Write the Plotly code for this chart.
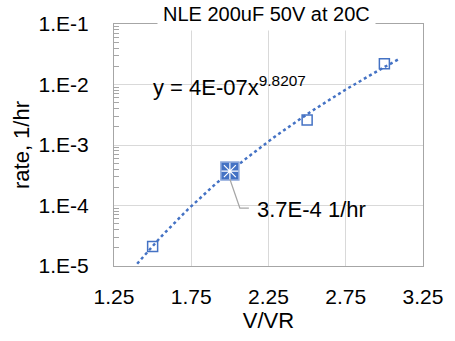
import numpy as np
import plotly.graph_objects as go

# data
v_ratio = [1.5, 2.0, 2.5, 3.0]
rate = [2.1e-5, 3.7e-4, 2.6e-3, 2.2e-2]
highlight_x = [2.0]
highlight_y = [3.7e-4]
# trendline from displayed equation y = a * x^b
coef_a = 4e-7
coef_b = 9.8207
trend_x = np.linspace(1.4, 3.1, 120)
trend_y = coef_a * trend_x ** coef_b

x_ticks = [1.25, 1.75, 2.25, 2.75, 3.25]
x_ticktext = ["1.25", "1.75", "2.25", "2.75", "3.25"]
y_ticks = [1e-5, 1e-4, 1e-3, 1e-2, 1e-1]
y_ticktext = ["1.E-5", "1.E-4", "1.E-3", "1.E-2", "1.E-1"]
y_minor = [m * 10.0 ** e for e in range(-5, -1) for m in range(2, 10)]

BLUE = "#4472C4"
FONT = "Liberation Sans, Arial, sans-serif"

fig = go.Figure()
fig.add_trace(go.Scatter(x=trend_x, y=trend_y, mode="lines",
                         line=dict(color=BLUE, width=2.5, dash="dot"),
                         hoverinfo="skip"))
fig.add_trace(go.Scatter(x=v_ratio, y=rate, mode="markers",
                         marker=dict(symbol="square-open", size=10,
                                     color=BLUE, line=dict(width=1.5, color=BLUE))))
fig.add_trace(go.Scatter(x=highlight_x, y=highlight_y, mode="markers",
                         marker=dict(symbol="square", size=18, color=BLUE,
                                     line=dict(width=1.5, color="#8EA9DB"))))
fig.add_trace(go.Scatter(x=highlight_x, y=highlight_y, mode="markers",
                         marker=dict(symbol="asterisk-open", size=14,
                                     color="white", line=dict(width=1.2, color="white"))))

fig.update_layout(
    width=455, height=341,
    margin=dict(l=114, r=22, t=24, b=70),
    paper_bgcolor="white", plot_bgcolor="white",
    showlegend=False,
    font=dict(family=FONT, size=22, color="#000000"),
    xaxis=dict(range=[1.25, 3.25], tickmode="array", tickvals=x_ticks,
               ticktext=x_ticktext, showgrid=True, gridcolor="#D9D9D9",
               gridwidth=1, showline=True, linecolor="#A6A6A6", linewidth=1,
               mirror=True, ticks="", zeroline=False,
               tickfont=dict(size=21),
               ticklabelstandoff=12,
               title=dict(text="V/VR", standoff=5, font=dict(size=22))),
    yaxis=dict(type="log", range=[-5, -1], tickmode="array", tickvals=y_ticks,
               ticktext=y_ticktext, showgrid=True, gridcolor="#D9D9D9",
               gridwidth=1, showline=True, linecolor="#A6A6A6", linewidth=1,
               mirror=True, ticks="", zeroline=False,
               tickfont=dict(size=21),
               ticklabelstandoff=20,
               minor=dict(tickmode="array", tickvals=y_minor, ticks="inside",
                          ticklen=5, tickcolor="#A6A6A6", showgrid=False),
               title=dict(text="rate, 1/hr", standoff=2, font=dict(size=22))),
)

fig.add_annotation(xref="paper", yref="paper", x=0.492, y=1.04,
                   text="NLE 200uF 50V at 20C", showarrow=False,
                   font=dict(size=20), bgcolor="white", borderpad=5,
                   xanchor="center", yanchor="middle")
fig.add_annotation(xref="x", yref="y", x=1.49, y=-2.03,
                   text="y = 4E-07x<sup>9.8207</sup>", showarrow=False,
                   font=dict(size=22), xanchor="left", yanchor="middle")
fig.add_annotation(xref="x", yref="y", x=2.165, y=-4.06,
                   text="3.7E-4 1/hr", showarrow=False,
                   font=dict(size=22), xanchor="left", yanchor="middle")
fig.add_shape(type="path", xref="x", yref="y", xsizemode="pixel", ysizemode="pixel",
              xanchor=highlight_x[0], yanchor=highlight_y[0],
              path="M 0,-8 L 10,-37 L 19,-37",
              line=dict(color="#A6A6A6", width=1.3))

fig.write_html("out.html")
